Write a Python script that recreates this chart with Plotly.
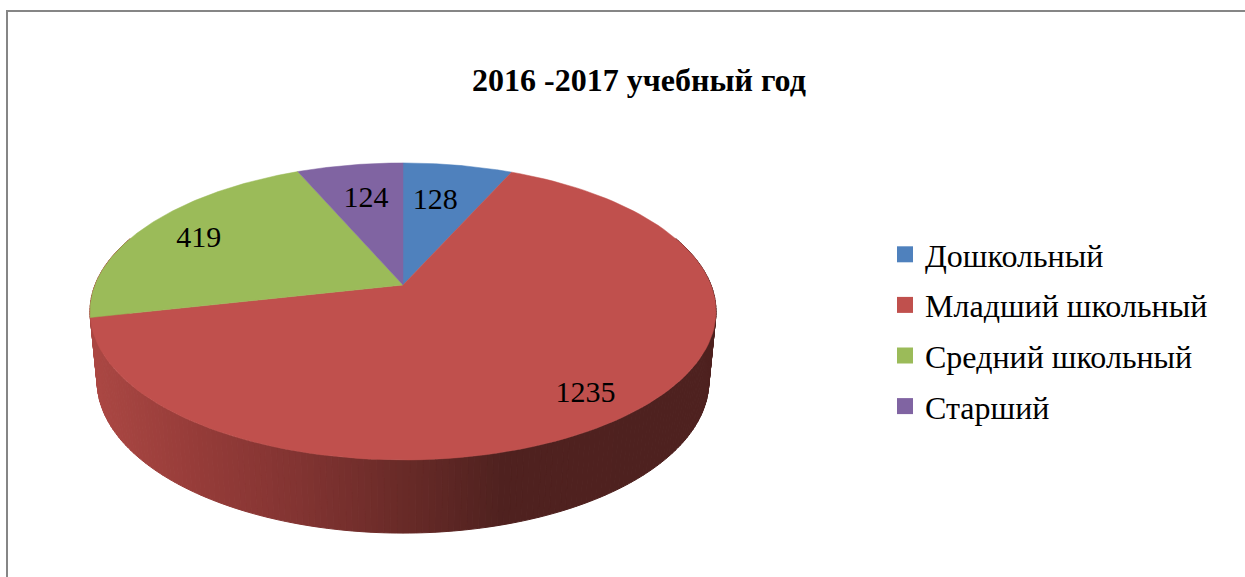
import numpy as np
import plotly.graph_objects as go

# ---- data ----
categories = ["Дошкольный", "Младший школьный", "Средний школьный", "Старший"]
values = [128, 1235, 419, 124]
title_text = "2016 -2017 учебный год"

# ---- style ----
colors = ["#4F81BD", "#C0504D", "#9BBB59", "#8064A2"]
label_radius = [0.64, 0.85, 0.80, 0.66]
label_dx = [-5, -5, 2, 0]
label_dy = [-3, 2, 4, -2]
FONT = "Liberation Serif"
W, H = 1245, 577
CX = 403
TOP = dict(apex=285, a=308, b=143.8, k=0.178)
BOTTOM = dict(apex=354, a=301, b=147.2, k=0.178)
side_x = [90, 200, 300, 403, 500, 720]
side_rgb = [(172, 72, 68), (150, 60, 57), (130, 52, 50), (105, 43, 40), (80, 34, 32), (78, 33, 31)]


def project(theta, r=1.0, p=TOP):
    """Tilted-disc perspective: theta clockwise from 12 o'clock, radians."""
    s, c = np.sin(theta) * r, np.cos(theta) * r
    d = 1 + p["k"] * c
    return CX + p["a"] * s / d, p["apex"] - p["b"] * c / d


fig = go.Figure()

# side wall of the disc, drawn first; the top face covers what is behind it
edges = np.radians(np.linspace(70, 290, 221))
for t0, t1 in zip(edges[:-1], edges[1:]):
    ts = np.array([t0, t1])
    xt, yt = project(ts, p=TOP)
    xb, yb = project(ts, p=BOTTOM)
    xm = (xt.mean() + xb.mean()) / 2
    rgb = [int(np.interp(xm, side_x, [c[i] for c in side_rgb])) for i in range(3)]
    col = f"rgb({rgb[0]},{rgb[1]},{rgb[2]})"
    fig.add_trace(go.Scatter(
        x=list(xt) + list(xb[::-1]) + [xt[0]], y=list(yt) + list(yb[::-1]) + [yt[0]],
        mode="lines", fill="toself", fillcolor=col,
        line=dict(color=col, width=1), showlegend=False, hoverinfo="skip"))

# top face wedges
total = sum(values)
cum = np.concatenate([[0], np.cumsum(values)]) / total * 2 * np.pi
for i, name in enumerate(categories):
    ts = np.linspace(cum[i], cum[i + 1], 120)
    xw, yw = project(ts)
    fig.add_trace(go.Scatter(
        x=[CX] + list(xw) + [CX], y=[TOP["apex"]] + list(yw) + [TOP["apex"]],
        mode="lines", fill="toself", fillcolor=colors[i],
        line=dict(color=colors[i], width=0.5), showlegend=False, name=name,
        hoverinfo="name"))

# value labels
mid = (cum[:-1] + cum[1:]) / 2
lpts = [project(m, r) for m, r in zip(mid, label_radius)]
lx = [p[0] + d for p, d in zip(lpts, label_dx)]
ly = [p[1] + d for p, d in zip(lpts, label_dy)]
fig.add_trace(go.Scatter(
    x=lx, y=ly, mode="text", text=[str(v) for v in values],
    textposition="middle center", textfont=dict(family=FONT, size=30, color="#000000"),
    showlegend=False, hoverinfo="skip"))

# legend entries
for i, name in enumerate(categories):
    fig.add_trace(go.Scatter(
        x=[None], y=[None], mode="markers", name=name, legendgroup=name,
        marker=dict(symbol="square", size=16, color=colors[i])))

fig.update_layout(
    width=W, height=H, autosize=False,
    margin=dict(l=0, r=0, t=0, b=0),
    paper_bgcolor="#FFFFFF", plot_bgcolor="#FFFFFF",
    xaxis=dict(range=[0, W], visible=False, fixedrange=True),
    yaxis=dict(range=[H, 0], visible=False, fixedrange=True),
    title=dict(text=f"<b>{title_text}</b>", x=639 / W, y=1 - 80 / H,
               xanchor="center", yanchor="middle",
               font=dict(family=FONT, size=32, color="#000000")),
    legend=dict(x=885 / W, y=1 - 227 / H, xanchor="left", yanchor="top",
                font=dict(family=FONT, size=32, color="#000000"),
                tracegroupgap=6, itemwidth=30, bgcolor="rgba(0,0,0,0)"),
    shapes=[dict(type="rect", xref="x", yref="y", x0=7, y0=11, x1=W + 20, y1=H + 20,
                 line=dict(color="#868686", width=2), layer="below")],
)
fig.write_html("out.html", config=dict(displayModeBar=False),
               post_script="document.body.style.margin='0';document.body.style.overflow='hidden';")
